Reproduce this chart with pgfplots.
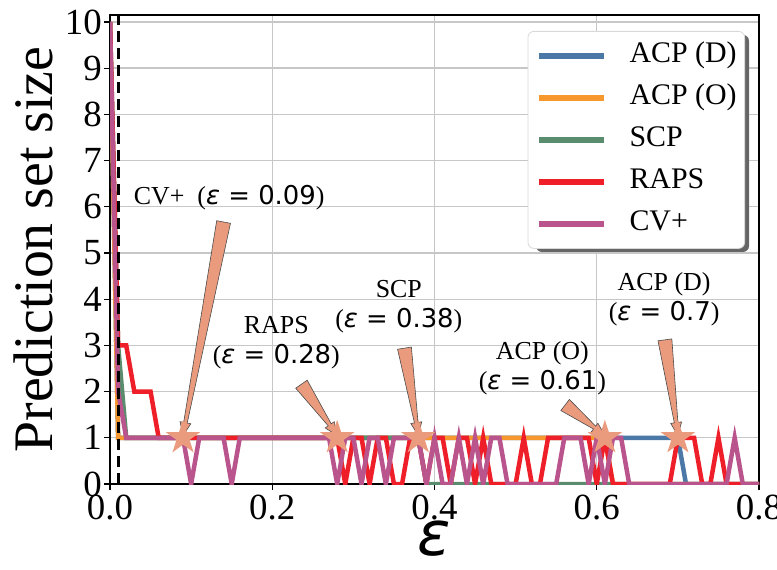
\documentclass[border=0pt]{standalone}
\usepackage{fontspec}
\setmainfont{Liberation Serif}
\newfontfamily\dv{DejaVu Sans}
\usepackage{pgfplots}
\pgfplotsset{compat=1.18}
\usetikzlibrary{calc}
\definecolor{cD}{HTML}{4C78A8}
\definecolor{cO}{HTML}{F7982F}
\definecolor{cS}{HTML}{5A8C6E}
\definecolor{cR}{HTML}{EE1F28}
\definecolor{cC}{HTML}{B9548C}
\definecolor{salm}{HTML}{EA9B7E}
\pgfdeclareplotmark{fstar}{%
  \pgfpathmoveto{\pgfpointpolar{90}{\pgfplotmarksize}}%
  \pgfpathlineto{\pgfpointpolar{126}{0.382\pgfplotmarksize}}%
  \pgfpathlineto{\pgfpointpolar{162}{\pgfplotmarksize}}%
  \pgfpathlineto{\pgfpointpolar{198}{0.382\pgfplotmarksize}}%
  \pgfpathlineto{\pgfpointpolar{234}{\pgfplotmarksize}}%
  \pgfpathlineto{\pgfpointpolar{270}{0.382\pgfplotmarksize}}%
  \pgfpathlineto{\pgfpointpolar{306}{\pgfplotmarksize}}%
  \pgfpathlineto{\pgfpointpolar{342}{0.382\pgfplotmarksize}}%
  \pgfpathlineto{\pgfpointpolar{18}{\pgfplotmarksize}}%
  \pgfpathlineto{\pgfpointpolar{54}{0.382\pgfplotmarksize}}%
  \pgfpathclose\pgfusepathqfill}
\newcommand{\annarrow}[4]{%
  \coordinate (T) at (axis cs:#1,#2);
  \coordinate (P) at (axis cs:#3,#4);
  \coordinate (H) at ($(P)!13bp!(T)$);
  \filldraw[fill=salm, draw=black!70, line width=0.6bp]
   ($(T)!7bp!90:(P)$) -- ($(H)!1.8bp!-90:(T)$) -- ($(H)!5.5bp!-90:(T)$) -- (P)
   -- ($(H)!5.5bp!90:(T)$) -- ($(H)!1.8bp!90:(T)$) -- ($(T)!7bp!-90:(P)$) -- cycle;
}
\newcommand{\eps}[1]{({\dv\textit{ε} = #1})}
\begin{document}
\begin{tikzpicture}
\begin{axis}[
  name=ax,
  scale only axis, width=649bp, height=469bp,
  xmin=0, xmax=0.8, ymin=0, ymax=10.15,
  xtick={0,0.2,0.4,0.6,0.8}, ytick={0,1,...,10},
  xticklabel style={/pgf/number format/fixed,/pgf/number format/fixed zerofill,/pgf/number format/precision=1, yshift=-3bp},
  /pgf/number format/assume math mode=true,
  tick label style={font=\fontsize{37}{37}\selectfont, inner sep=2bp},
  xtick pos=bottom, ytick pos=left,
  tick align=outside, major tick length=6bp,
  tick style={black, line width=1.2bp},
  axis line style={black, line width=1.2bp},
  grid=major, grid style={black!22, line width=1.3bp},
  xlabel={\dv\textit{ε}}, ylabel={Prediction set size},
  xlabel style={font=\fontsize{62}{62}\selectfont, at={(axis description cs:0.5,0)}, yshift=-55bp, anchor=center, inner sep=0pt},
  ylabel style={font=\fontsize{56}{56}\selectfont, at={(axis description cs:0,0.5)}, yshift=77bp, anchor=center},
  legend cell align=left,
  legend image code/.code={\draw[#1, line width=6.5bp, sharp corners] (0bp,0bp) -- (65bp,0bp);},
  legend style={at={(axis description cs:1,1)}, anchor=north east, xshift=-14bp, yshift=-16bp,
    font=\fontsize{30}{30}\selectfont, draw=black!15, line width=0.8bp, rounded corners=6bp, fill=white,
    inner xsep=8bp, inner ysep=11bp, row sep=15bp, column sep=22bp,
    nodes={inner sep=0pt, text height=20bp, text depth=7bp}},
]
\addplot[cD, line width=4.5bp] coordinates {(0,10) (0.01,1) (0.70,1) (0.71,0) (0.80,0)};
\addlegendentry{ACP (D)}
\addplot[cO, line width=4.5bp] coordinates {(0,10) (0.01,1) (0.61,1) (0.62,0) (0.80,0)};
\addlegendentry{ACP (O)}
\addplot[cS, line width=4.5bp] coordinates {(0,10) (0.01,3) (0.02,1) (0.38,1) (0.39,0) (0.80,0)};
\addlegendentry{SCP}
\addplot[cR, line width=4.5bp] coordinates {(0,10) (0.01,3) (0.02,3) (0.03,2) (0.05,2) (0.06,1) (0.28,1)
 (0.29,0) (0.30,1) (0.31,1) (0.32,0) (0.33,1) (0.34,1) (0.35,0) (0.36,0) (0.37,1) (0.38,1) (0.39,0)
 (0.40,1) (0.41,1) (0.42,0) (0.43,1) (0.44,1) (0.45,0) (0.46,1) (0.47,0) (0.48,0) (0.49,0) (0.50,0)
 (0.51,1) (0.52,0) (0.53,0) (0.54,1) (0.55,1) (0.56,1) (0.57,1) (0.58,1) (0.59,1) (0.60,0) (0.61,1)
 (0.62,0) (0.69,0) (0.70,1) (0.71,1) (0.72,1) (0.73,0) (0.74,0) (0.75,1) (0.76,0) (0.80,0)};
\addlegendentry{RAPS}
\addplot[cC, line width=4.5bp] coordinates {(0,10) (0.01,2) (0.02,1) (0.09,1) (0.10,0) (0.11,1) (0.14,1)
 (0.15,0) (0.16,1) (0.27,1) (0.28,0) (0.29,1) (0.30,1) (0.31,0) (0.32,1) (0.33,1) (0.34,0) (0.35,1)
 (0.38,1) (0.39,0) (0.40,1) (0.41,0) (0.42,0) (0.43,1) (0.44,0) (0.45,1) (0.46,0) (0.47,1) (0.48,1)
 (0.49,0) (0.55,0) (0.56,1) (0.58,1) (0.59,0) (0.60,1) (0.61,0) (0.62,1) (0.63,1) (0.64,0) (0.76,0)
 (0.77,1) (0.78,0) (0.80,0)};
\addlegendentry{CV+}
\addplot[black, line width=3bp, dash pattern=on 11bp off 6bp, forget plot] coordinates {(0.01,0) (0.01,10.2)};
\addplot[only marks, mark=fstar, mark size=18bp, color=salm, forget plot] coordinates {(0.09,1) (0.28,1) (0.38,1) (0.61,1) (0.70,1)};
\annarrow{0.140}{5.67}{0.09}{1.05}
\annarrow{0.236}{2.16}{0.28}{1.05}
\annarrow{0.363}{2.94}{0.38}{1.05}
\annarrow{0.561}{1.71}{0.61}{1.05}
\annarrow{0.684}{3.12}{0.70}{1.05}
\node[font=\fontsize{26}{30}\selectfont, align=center] at (axis cs:0.147,6.19) {CV+\ \ \eps{0.09}};
\node[font=\fontsize{26}{30}\selectfont, align=center] at (axis cs:0.205,3.05) {RAPS\\\eps{0.28}};
\node[font=\fontsize{26}{30}\selectfont, align=center] at (axis cs:0.356,3.83) {SCP\\\eps{0.38}};
\node[font=\fontsize{26}{30}\selectfont, align=center] at (axis cs:0.533,2.51) {ACP (O)\\\eps{0.61}};
\node[font=\fontsize{26}{30}\selectfont, align=center] at (axis cs:0.683,4.0) {ACP (D)\\\eps{0.7}};
\fill[black!60, rounded corners=6bp] (rel axis cs:0.6564,0.9574) rectangle (rel axis cs:0.9846,0.4947);
\end{axis}
\pgfresetboundingbox
\path[use as bounding box] ($(ax.south west)+(-110bp,-85bp)$) rectangle ($(ax.north east)+(18bp,15bp)$);
\end{tikzpicture}
\end{document}
